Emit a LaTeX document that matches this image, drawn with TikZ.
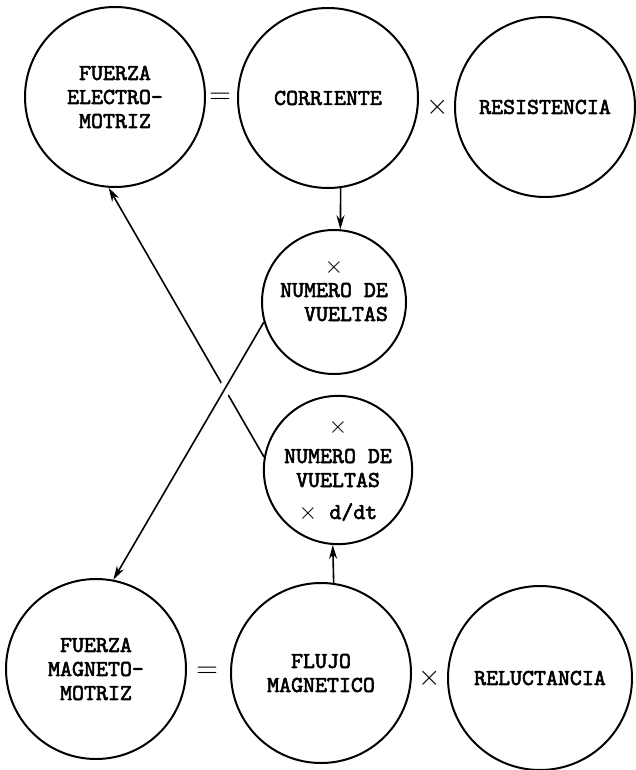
\documentclass[tikz,border=0pt]{standalone}
\usepackage{fontspec}
\setmonofont{lmmono10-regular.otf}[BoldFont=lmmono10-regular.otf,BoldFeatures={FakeBold=2.5}]
\usetikzlibrary{arrows.meta}
\newcommand{\xsign}{{\large$\times$}}

\begin{document}
\begin{tikzpicture}[x=0.5pt,y=-0.5pt,
  every node/.style={font=\ttfamily\bfseries\fontsize{11.4}{12}\selectfont},
  bubble/.style={circle,draw,line width=1pt,minimum size=90pt,inner sep=0pt,align=center},
  small bubble/.style={bubble,minimum size=71pt},
  sign/.style={font=\Large},
  link/.style={line width=0.8pt,-{Stealth[length=7pt,width=4pt]}}]
\useasboundingbox (0,0) rectangle (636,770);

\node[bubble] (fem) at (115,97) {FUERZA\\ELECTRO-\\MOTRIZ};
\node[bubble] (corr) at (328,98) {CORRIENTE};
\node[bubble] (res) at (545,107) {RESISTENCIA};
\node[sign] (eqtop) at (220,98) {$=$};
\node[sign] (xtop) at (438,107) {$\times$};

\node[small bubble,minimum size=72pt] (nv1) at (334,302)
  {\xsign\\NUMERO DE\\\hphantom{NU}VUELTAS\\\mbox{}};
\node[small bubble,minimum size=70pt] (nv2) at (338,470)
  {\xsign\\[3pt]NUMERO DE\\VUELTAS\\[4pt]\xsign{} d/dt};

\node[bubble] (fmm) at (96,669) {FUERZA\\MAGNETO-\\MOTRIZ};
\node[bubble] (flujo) at (321,673) {FLUJO\\MAGNETICO};
\node[bubble,minimum size=92pt] (rel) at (540,678) {RELUCTANCIA};
\node[sign] (eqbot) at (207,672) {$=$};
\node[sign] (xbot) at (430,678) {$\times$};

\draw[link] (corr.-82) -- (nv1.85);
\draw[link] (nv2.170) -- (fem.266);
\draw[link,preaction={draw=white,line width=6pt,-,shorten <=12pt,shorten >=12pt}]
  (nv1.196) -- (fmm.79);
\draw[link] (flujo.82) -- (nv2.266);
\end{tikzpicture}
\end{document}
